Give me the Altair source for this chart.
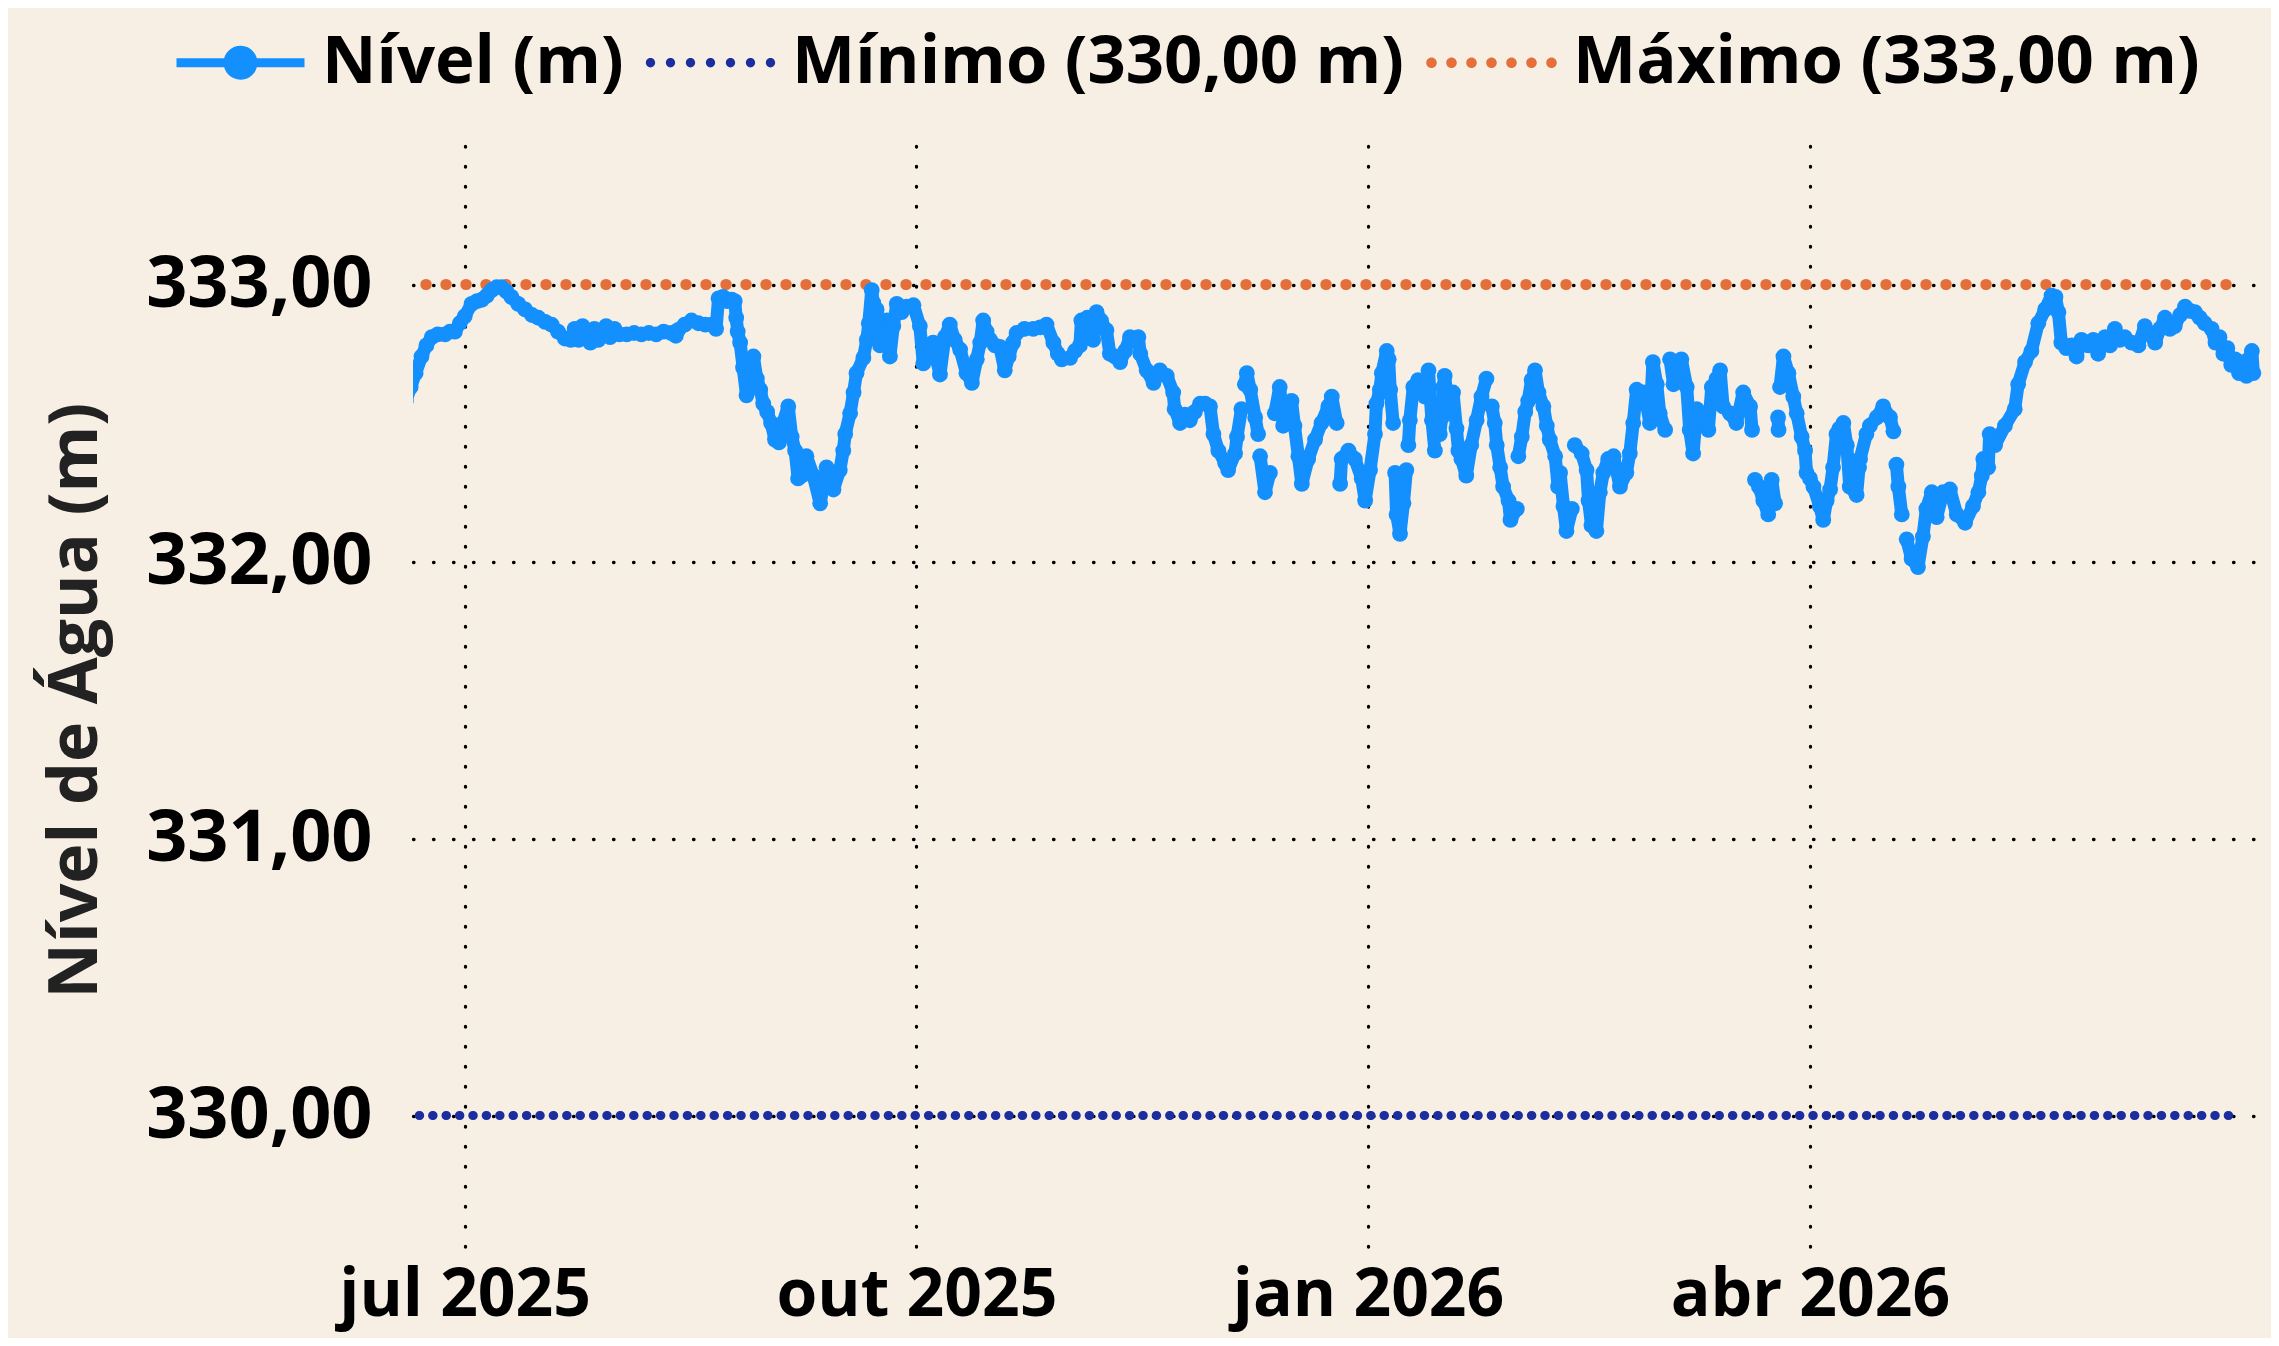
import altair as alt
import pandas as pd

# ---------------- data ----------------
ORIGEM = "2025-07-01"  # dia 0
# dias desde 2025-07-01 ; None em nivel = interrupção da série
dias = [
    -12.0, -11.0, -10.0, -8.8, -7.8, -6.7, -5.5, -4.0, -3.0, -2.0, -1.0, 0.0, 1.4, 2.5, 3.5, 4.5, 5.5, 6.5, 7.5, 8.5,
    9.5, 10.9, 12.3, 13.7, 15.0, 16.4, 17.7, 19.0, 20.4, 21.6, 22.4, 23.2, 24.0, 24.8, 25.6, 26.4, 27.2, 28.0, 28.8, 29.6,
    30.5, 31.5, 33.0, 34.5, 36.0, 37.5, 39.0, 40.5, 42.0, 43.0, 43.5, 44.8, 46.2, 47.6, 49.0, 50.3, 51.2, 51.7, 52.6, 53.5,
    54.4, 55.0, 55.3, 55.6, 56.1, 56.7, 57.4, 58.0, 58.8, 59.5, 60.2, 60.8, 61.6, 62.4, 63.2, 64.0, 64.8, 65.9, 66.6, 67.3,
    67.9, 68.6, 69.6, 71.0, 72.4, 73.7, 75.1, 76.4, 77.1, 77.5, 78.5, 79.2, 79.8, 81.2, 81.9, 82.3, 82.9, 83.2, 83.9, 84.6,
    85.3, 86.0, 86.6, 87.3, 88.0, 89.0, 90.0, 91.4, 92.7, 93.4, 94.1, 95.4, 96.1, 96.8, 97.8, 98.8, 99.8, 100.9, 102.2, 103.3,
    104.3, 105.0, 105.6, 106.3, 107.0, 108.0, 109.0, 110.0, 110.8, 111.7, 112.4, 114.0, 115.8, 117.2, 118.5, 119.9, 120.8, 121.6, 123.3, 124.3,
    125.3, 125.6, 126.8, 128.0, 128.7, 129.6, 130.7, 131.4, 132.4, 133.5, 134.5, 135.5, 137.2, 137.6, 138.9, 140.3, 141.6, 143.0, 144.3, 144.6,
    145.7, 146.7, 147.7, 148.7, 149.8, 150.8, 151.8, 152.5, 153.5, 154.9, 155.5, 156.9, 157.3, 158.2, 158.5, 158.9, 159.3, 160.0, 161.0, 161.6,
    161.8, 162.0, 163.0, 164.0, 164.5, 165.0, 166.0, 166.7, 167.5, 168.4, 169.0, 169.8, 170.5, 171.8, 173.2, 174.5, 175.9, 176.6, 177.6, 178.0,
    178.3, 178.6, 180.0, 181.3, 182.7, 183.4, 184.4, 185.4, 185.7, 186.4, 186.8, 187.8, 188.2, 188.5, 189.1, 189.3, 189.5, 189.8, 190.5, 191.2,
    191.8, 192.0, 192.2, 192.5, 193.2, 194.2, 195.6, 196.3, 197.0, 197.6, 198.1, 198.6, 199.0, 199.3, 199.6, 200.3, 201.3, 202.0, 202.4, 203.0,
    204.0, 205.0, 206.1, 207.1, 208.1, 208.6, 209.2, 209.8, 210.2, 210.9, 211.5, 212.6, 213.0, 214.3, 214.4, 214.6, 215.3, 216.0, 216.6, 217.3,
    218.0, 218.7, 219.7, 220.4, 221.0, 222.1, 222.7, 223.1, 223.8, 224.4, 225.5, 225.8, 226.1, 227.5, 228.5, 228.9, 229.5, 230.5, 231.2, 231.9,
    232.9, 234.0, 235.3, 236.6, 237.3, 238.0, 238.7, 240.0, 240.7, 241.4, 242.0, 242.8, 243.4, 244.5, 245.0, 245.5, 246.2, 247.5, 247.8, 248.9,
    249.5, 250.2, 250.9, 252.3, 253.3, 254.0, 255.0, 255.7, 256.3, 257.7, 259.0, 260.4, 261.8, 262.2, 262.5, 262.8, 263.6, 264.5, 265.5, 266.2,
    266.9, 267.2, 267.5, 267.6, 267.75, 267.9, 268.6, 269.6, 270.6, 271.3, 272.3, 273.0, 273.3, 274.0, 274.7, 276.0, 276.7, 277.4, 278.1, 278.7,
    279.4, 280.0, 280.8, 281.5, 282.1, 283.5, 284.0, 284.2, 285.5, 286.2, 287.6, 288.9, 290.3, 291.0, 291.3, 291.6, 292.0, 292.7, 293.2, 293.7,
    294.7, 296.0, 297.0, 297.7, 298.8, 299.8, 301.1, 302.5, 303.9, 305.6, 307.2, 308.3, 309.0, 309.3, 310.3, 310.6, 311.7, 313.7, 315.7, 316.4,
    317.8, 319.1, 320.5, 321.9, 323.2, 324.0, 324.6, 325.2, 326.2, 327.3, 328.3, 329.3, 330.7, 331.7, 332.7, 334.1, 335.1, 336.1, 337.1, 338.1,
    339.5, 340.9, 342.2, 343.3, 344.3, 345.3, 346.3, 347.3, 348.3, 349.4, 350.4, 351.4, 352.4, 353.4, 354.4, 355.8, 356.6, 357.4, 358.2, 359.0,
    359.8, 360.6, 361.4, 362.2, 362.9, 363.4, 364.0, 364.3,
]
nivel = [
    332.58, 332.63, 332.68, 332.74, 332.78, 332.81, 332.82, 332.82, 332.83, 332.83, 332.86, 332.885, 332.93, 332.94, 332.945, 332.96, 332.98, 332.99, 332.99, 332.975,
    332.955, 332.93, 332.91, 332.89, 332.88, 332.865, 332.855, 332.83, 332.805, 332.80, 332.84, 332.80, 332.85, 332.81, 332.79, 332.84, 332.80, 332.82, 332.85, 332.81,
    332.84, 332.82, 332.82, 332.825, 332.82, 332.825, 332.82, 332.83, 332.825, 332.815, 332.836, 332.855, 332.87, 332.86, 332.855, 332.855, 332.84, 332.95, 332.955, 332.94,
    332.945, 332.94, 332.88, 332.83, 332.79, 332.70, 332.60, 332.65, 332.74, 332.66, 332.62, 332.57, 332.54, 332.50, 332.44, 332.43, 332.50, 332.56, 332.45, 332.40,
    332.30, 332.31, 332.38, 332.31, 332.21, 332.34, 332.26, 332.33, 332.40, 332.46, 332.535, 332.61, 332.68, 332.735, 332.80, 332.86, 332.98, 332.935, 332.91, 332.78,
    332.82, 332.87, 332.74, 332.85, 332.93, 332.90, 332.92, 332.925, 332.85, 332.715, 332.78, 332.79, 332.73, 332.675, 332.81, 332.855, 332.80, 332.765, 332.68, 332.645,
    332.73, 332.79, 332.87, 332.83, 332.80, 332.78, 332.775, 332.69, 332.74, 332.79, 332.825, 332.84, 332.84, 332.845, 332.855, 332.79, 332.75, 332.73, 332.735, 332.76,
    332.78, 332.87, 332.88, 332.80, 332.90, 332.87, 332.835, 332.75, 332.74, 332.72, 332.76, 332.81, 332.81, 332.75, 332.69, 332.645, 332.69, 332.67, 332.61, 332.55,
    332.50, 332.53, 332.51, 332.54, 332.57, 332.57, 332.56, 332.46, 332.40, 332.355, 332.33, 332.39, 332.45, 332.55, None, 332.64, 332.68, 332.62, 332.52, 332.46,
    None, 332.38, 332.25, 332.32, None, 332.535, 332.63, 332.49, 332.55, 332.58, 332.49, 332.38, 332.28, 332.37, 332.44, 332.50, 332.56, 332.595, 332.50, None,
    332.28, 332.37, 332.40, 332.37, 332.30, 332.22, 332.33, 332.46, 332.57, 332.62, 332.68, 332.76, 332.73, 332.62, 332.50, None, 332.32, 332.17, 332.10, 332.21,
    332.33, None, 332.42, 332.51, 332.63, 332.655, 332.595, 332.69, 332.51, 332.40, None, 332.46, 332.52, 332.63, 332.67, 332.56, 332.61, 332.48, 332.40, 332.37,
    332.31, 332.42, 332.51, 332.595, 332.66, None, 332.56, 332.50, 332.42, 332.34, 332.27, 332.22, 332.15, 332.19, None, 332.38, 332.45, 332.54, 332.58, 332.655,
    332.69, 332.61, 332.56, 332.49, 332.44, 332.38, 332.27, 332.32, 332.20, 332.11, 332.19, None, 332.42, 332.39, 332.33, 332.22, 332.13, 332.11, 332.25, 332.32,
    332.37, 332.38, 332.27, 332.32, 332.39, 332.50, 332.62, 332.61, 332.57, 332.50, 332.72, 332.64, 332.535, 332.475, None, 332.73, 332.64, 332.68, 332.73, 332.63,
    332.475, 332.39, 332.55, 332.535, 332.475, 332.63, 332.66, 332.69, 332.56, 332.535, 332.50, 332.61, 332.56, 332.475, None, 332.295, 332.27, 332.22, 332.17, 332.295,
    332.21, None, 332.52, 332.475, None, 332.63, 332.74, 332.68, 332.595, 332.535, 332.45, 332.40, 332.32, 332.30, 332.27, 332.20, 332.15, 332.22, 332.26, 332.34,
    332.46, 332.48, 332.50, 332.42, 332.27, 332.24, 332.34, 332.37, 332.46, 332.49, 332.52, 332.56, 332.52, 332.47, None, 332.35, 332.27, 332.17, None, 332.08,
    332.01, 331.98, 332.09, 332.19, 332.25, 332.16, 332.25, 332.26, 332.17, 332.14, 332.20, 332.25, 332.31, 332.37, 332.34, 332.46, 332.42, 332.49, 332.55, 332.64,
    332.72, 332.76, 332.86, 332.91, 332.96, 332.955, 332.90, 332.79, 332.77, 332.78, 332.74, 332.80, 332.78, 332.80, 332.75, 332.81, 332.78, 332.84, 332.80, 332.81,
    332.79, 332.78, 332.85, 332.82, 332.79, 332.84, 332.88, 332.84, 332.85, 332.89, 332.92, 332.905, 332.90, 332.88, 332.86, 332.84, 332.79, 332.81, 332.75, 332.77,
    332.71, 332.73, 332.68, 332.72, 332.67, 332.73, 332.76, 332.68,
]

limite_dias = [-12.0, 360.0]          # extensão das linhas de referência
nivel_minimo = 330.00
nivel_maximo = 333.00
series = ["Nível (m)", "Mínimo (330,00 m)", "Máximo (333,00 m)"]
cores = ["#148ffe", "#1b2d9f", "#e56f3a"]
y_ticks = [330, 331, 332, 333]
meses_pt = ["jan", "fev", "mar", "abr", "mai", "jun", "jul", "ago", "set", "out", "nov", "dez"]

# ---------------- tables ----------------
base = pd.Timestamp(ORIGEM)
df = pd.DataFrame({"dia": dias, "nivel": nivel})
df["seg"] = df["nivel"].isna().cumsum()
df = df.dropna().copy()
df["data"] = base + pd.to_timedelta(df["dia"], unit="D")
df["serie"] = series[0]
df = df[["data", "nivel", "seg", "serie"]]

lim = pd.DataFrame({"data": [base + pd.Timedelta(days=d) for d in limite_dias]})
df_min = lim.assign(nivel=nivel_minimo)
df_max = lim.assign(nivel=nivel_maximo)
df_leg = pd.DataFrame({"serie": series})

# ---------------- scales / axes ----------------
FONT = "Open Sans"
x_dom = [alt.DateTime(year=2025, month=6, date=20, hours=11, minutes=17),
         alt.DateTime(year=2026, month=7, date=3, hours=21, minutes=36)]
x_vals = [alt.DateTime(year=2025, month=7, date=1), alt.DateTime(year=2025, month=10, date=1),
          alt.DateTime(year=2026, month=1, date=1), alt.DateTime(year=2026, month=4, date=1)]
meses_js = "[" + ",".join(f"'{m}'" for m in meses_pt) + "]"

x_enc = alt.X("data:T", scale=alt.Scale(domain=x_dom, nice=False),
              axis=alt.Axis(values=x_vals, title=None,
                            labelExpr=f"{meses_js}[month(datum.value)] + ' ' + year(datum.value)",
                            labelFont=FONT, labelFontSize=66, labelFontWeight="bold", labelColor="black",
                            labelPadding=9, labelLimit=2000, ticks=False, domain=False, labelFlush=False,
                            labelOverlap=False,
                            grid=True, gridColor="black", gridWidth=3.3, gridDash=[0.5, 19.5], gridCap="round",
                            gridOpacity=1))
y_enc = alt.Y("nivel:Q", scale=alt.Scale(domain=[329.5, 333.5], nice=False, zero=False),
              axis=alt.Axis(values=y_ticks, title="Nível de Água (m)",
                            labelExpr="replace(format(datum.value, '.2f'), '.', ',')",
                            labelFont=FONT, labelFontSize=72, labelFontWeight="bold", labelColor="black",
                            labelPadding=41, labelLimit=2000, ticks=False, domain=False,
                            titleFont=FONT, titleFontSize=68, titleFontWeight="bold", titleColor="#222222",
                            titleAngle=270, titleAlign="center", titleBaseline="alphabetic",
                            titleX=-317, titleY=554, titleLimit=3000,
                            grid=True, gridColor="black", gridWidth=3.3, gridDash=[0.5, 19.5], gridCap="round",
                            gridOpacity=1))

max_line = alt.Chart(df_max).mark_line(color=cores[2], strokeWidth=11, strokeDash=[0.5, 19.5],
                                       strokeCap="round", clip=True).encode(x=x_enc, y=y_enc)
min_line = alt.Chart(df_min).mark_line(color=cores[1], strokeWidth=9, strokeDash=[0.5, 12.9],
                                       strokeCap="round", clip=True).encode(x="data:T", y="nivel:Q")

linha = alt.Chart(df).mark_line(color=cores[0], strokeWidth=13, strokeJoin="round", strokeCap="round",
                                clip=True).encode(x="data:T", y="nivel:Q", detail="seg:N")
pontos = alt.Chart(df).mark_circle(color=cores[0], size=250, opacity=1, clip=True).encode(
    x="data:T", y="nivel:Q")

# legend symbols (custom paths; unit = 16 px)
def dots_path(n=7, step=1.25, r=0.32):
    parts = []
    for i in range(n):
        cx = (i - (n - 1) / 2) * step
        parts.append(f"M{cx - r:.3f},0A{r},{r} 0 1,1 {cx + r:.3f},0A{r},{r} 0 1,1 {cx - r:.3f},0Z")
    return "".join(parts)

path_nivel = "M-4,-0.28H4V0.28H-4Z M-1.06,0A1.06,1.06 0 1,1 1.06,0A1.06,1.06 0 1,1 -1.06,0Z"
shapes = [path_nivel, dots_path(r=0.29), dots_path(r=0.33)]

leg = alt.Legend(title=None, orient="none", legendX=-254, legendY=-117, direction="horizontal",
                 labelFont=FONT, labelFontSize=67, labelFontWeight="bold", labelColor="black",
                 labelLimit=3000, symbolSize=1024, symbolOffset=48, labelOffset=48, columnPadding=5,
                 symbolStrokeWidth=0, symbolOpacity=1, padding=0)

legenda = alt.Chart(df_leg).mark_point(filled=True, size=1024).encode(
    color=alt.Color("serie:N", scale=alt.Scale(domain=series, range=cores), legend=leg),
    shape=alt.Shape("serie:N", scale=alt.Scale(domain=series, range=shapes), legend=leg),
).transform_filter("false")

chart = alt.layer(max_line, min_line, linha, pontos, legenda).properties(
    width=1858, height=1108,
    autosize=alt.AutoSizeParams(type="none"),
    padding={"left": 405, "top": 138, "right": 0, "bottom": 84},
    background="#f7efe4",
).configure_view(stroke=None)

chart.save("out.html", embed_options={"renderer": "svg", "actions": False})
